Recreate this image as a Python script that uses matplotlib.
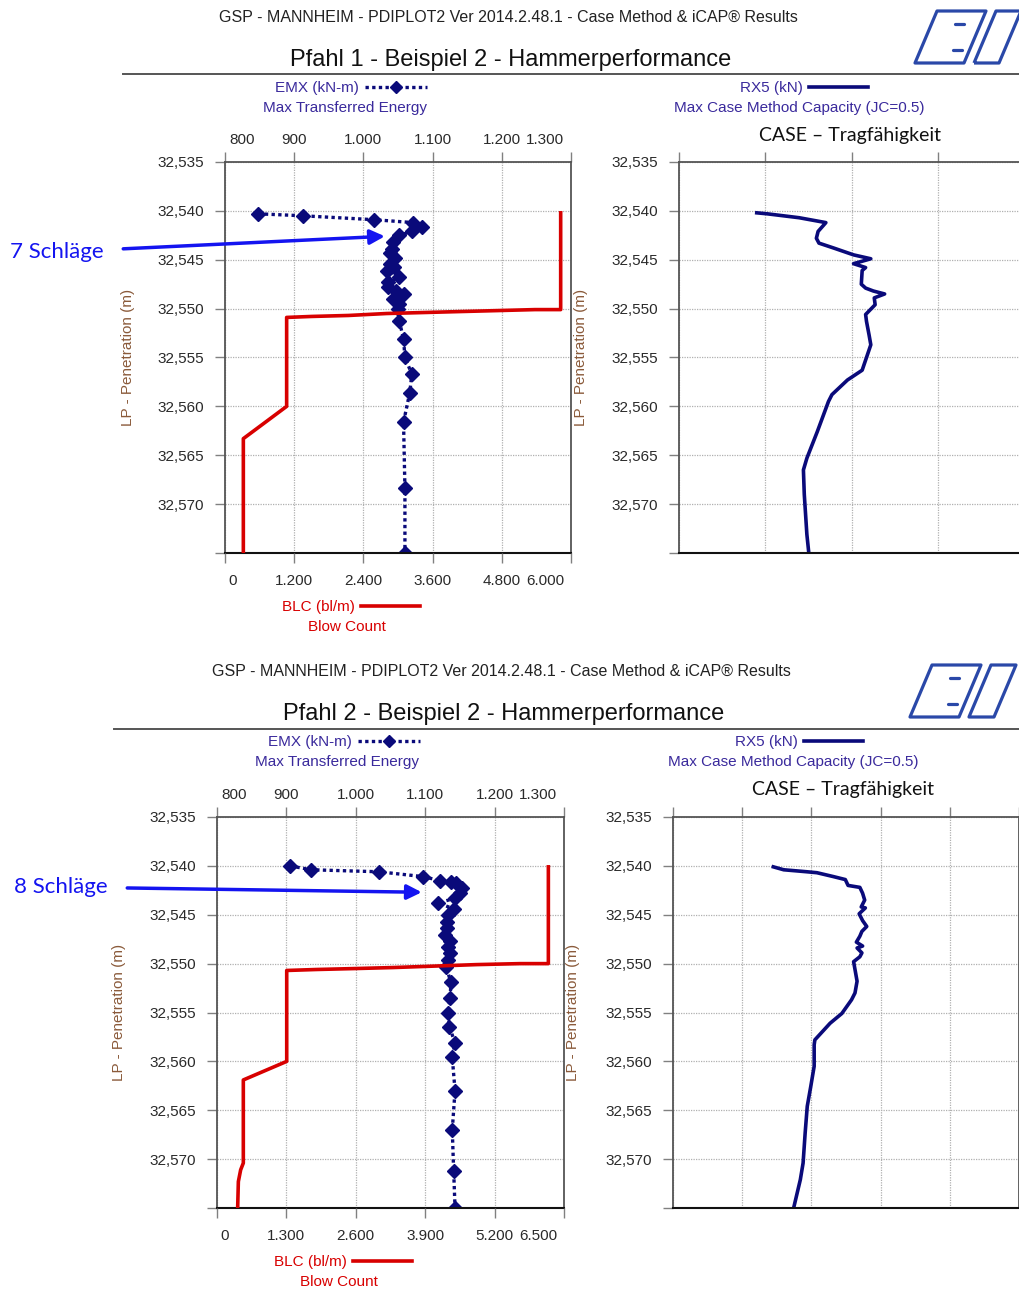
import numpy as np
import matplotlib
matplotlib.use("Agg")
import matplotlib.pyplot as plt
from matplotlib.lines import Line2D
from matplotlib.patches import Polygon
from matplotlib.transforms import ScaledTranslation

plt.rcParams['font.family'] = ['Liberation Sans', 'DejaVu Sans']

W, H = 1020, 1290

# ---- Pfahl 1 data ----
emx1_depth = [32.5403, 32.5405, 32.5409, 32.5412, 32.5416, 32.5421, 32.5425, 32.5432, 32.5439, 32.5443,
              32.5448, 32.5454, 32.5457, 32.5461, 32.5468, 32.5473, 32.5478, 32.5482, 32.5485, 32.5490,
              32.5495, 32.5500, 32.5513, 32.5531, 32.5550, 32.5567, 32.5586, 32.5616, 32.5684, 32.5750]
emx1 = [848, 912, 1015, 1072, 1084, 1070, 1052, 1043, 1041, 1038,
        1046, 1039, 1044, 1034, 1051, 1036, 1035, 1047, 1058, 1043,
        1051, 1050, 1052, 1058, 1060, 1070, 1067, 1058, 1060, 1060]
blc1_depth = [32.5402, 32.5501, 32.5501, 32.5503, 32.5505, 32.5507, 32.5508, 32.5509, 32.5600, 32.5633, 32.5750]
blc1 = [5821, 5821, 5376, 4075, 2803, 2139, 1503, 1069, 1069, 318, 318]
rx1_depth = [32.5402, 32.5403, 32.5407, 32.5412, 32.5421, 32.5428, 32.5433, 32.5438, 32.5445, 32.5449,
             32.5454, 32.5458, 32.5461, 32.5475, 32.5479, 32.5482, 32.5485, 32.5489, 32.5496, 32.5506,
             32.5513, 32.5527, 32.5537, 32.5563, 32.5573, 32.5588, 32.5595, 32.5626, 32.5653, 32.5665,
             32.5690, 32.5731, 32.5748]
rx1 = [900, 1020, 1390, 1700, 1610, 1590, 1620, 1790, 2020, 2220,
       2020, 2160, 2120, 2110, 2160, 2250, 2380, 2260, 2270, 2160,
       2170, 2200, 2220, 2120, 1950, 1770, 1730, 1600, 1480, 1440,
       1450, 1480, 1500]

# ---- Pfahl 2 data ----
emx2_depth = [32.5400, 32.5404, 32.5406, 32.5411, 32.5415, 32.5416, 32.5418, 32.5423, 32.5428, 32.5433,
              32.5438, 32.5444, 32.5450, 32.5457, 32.5464, 32.5471, 32.5477, 32.5483, 32.5489, 32.5496,
              32.5503, 32.5519, 32.5535, 32.5550, 32.5565, 32.5581, 32.5596, 32.5630, 32.5670, 32.5712,
              32.5750]
emx2 = [905, 936, 1033, 1097, 1121, 1137, 1145, 1153, 1150, 1143,
        1119, 1141, 1133, 1131, 1132, 1129, 1136, 1133, 1136, 1133,
        1130, 1137, 1136, 1133, 1135, 1143, 1139, 1143, 1139, 1141,
        1143]
blc2_depth = [32.5401, 32.5500, 32.5500, 32.5501, 32.5504, 32.5505, 32.5506, 32.5507,
              32.5600, 32.5619, 32.5704, 32.5711, 32.5723, 32.5750]
blc2 = [6207, 6207, 5676, 4865, 3303, 2617, 1868, 1306, 1306, 493, 493, 443, 400, 387]
rx2_depth = [32.5401, 32.5404, 32.5406, 32.5407, 32.5411, 32.5414, 32.5420, 32.5422, 32.5428, 32.5435,
             32.5442, 32.5443, 32.5449, 32.5456, 32.5462, 32.5467, 32.5472, 32.5478, 32.5482, 32.5484,
             32.5489, 32.5493, 32.5498, 32.5506, 32.5518, 32.5530, 32.5537, 32.5551, 32.5561, 32.5578,
             32.5583, 32.5605, 32.5626, 32.5646, 32.5673, 32.5704, 32.5721, 32.5748]
rx2 = [1450, 1600, 1930, 2080, 2320, 2490, 2530, 2700, 2740, 2770,
       2720, 2780, 2690, 2740, 2800, 2730, 2700, 2650, 2740, 2660,
       2730, 2700, 2610, 2630, 2660, 2630, 2580, 2440, 2270, 2050,
       2040, 2040, 1990, 1940, 1910, 1880, 1840, 1750]

depth_ticks = [32.535, 32.540, 32.545, 32.550, 32.555, 32.560, 32.565, 32.570, 32.575]
emx_ticks = [800, 900, 1000, 1100, 1200, 1300]
blc1_ticks = [0, 1200, 2400, 3600, 4800, 6000]
blc2_ticks = [0, 1300, 2600, 3900, 5200, 6500]
rx_ticks = [0, 1000, 2000, 3000, 4000, 5000]

NAVY = '#0a0a7a'
RED = '#d80000'
LEG = '#3a2a9c'
TICKC = '#2a2a2a'
YLAB = '#8a5a3a'
ARROW = '#1414f0'

fig = plt.figure(figsize=(W / 100, H / 100), dpi=100)


def fx(x):
    return x / W


def fy(y):
    return 1 - y / H


def add_ax(x0, y0, x1, y1):
    return fig.add_axes([fx(x0), fy(y1), (x1 - x0) / W, (y1 - y0) / H])


def de(v):
    return f"{int(v):,}".replace(',', '.')


def style_depth(ax, lab_x):
    ax.set_ylim(32.575, 32.535)
    ax.set_yticks(depth_ticks)
    ax.set_yticklabels([f"{v:.3f}".replace('.', ',') for v in depth_ticks[:-1]] + [''])
    ax.tick_params(axis='y', direction='out', length=7, width=1, color='#808080',
                   labelsize=11, labelcolor=TICKC, pad=8)
    ax.set_ylabel('LP - Penetration (m)', fontsize=11, color=YLAB)
    ax.yaxis.set_label_coords(lab_x, 0.5)
    ax.grid(True, color='#b0b0b0', linestyle=(0, (1, 1)), linewidth=0.9)
    for s in ['left', 'top', 'right']:
        ax.spines[s].set_color('#555555')
        ax.spines[s].set_linewidth(1.3)
    ax.spines['bottom'].set_color('#111111')
    ax.spines['bottom'].set_linewidth(1.5)


def shift_ends(labels, dl, dr):
    labels[0].set_horizontalalignment('left')
    labels[0].set_transform(labels[0].get_transform() + ScaledTranslation(dl / 100, 0, fig.dpi_scale_trans))
    labels[-1].set_horizontalalignment('right')
    labels[-1].set_transform(labels[-1].get_transform() + ScaledTranslation(-dr / 100, 0, fig.dpi_scale_trans))


def draw_logo(ox, oy):
    col = '#2a48a8'
    shapes = [[(2, 55), (24, 3), (73, 3), (51, 55)],
              [(61, 55), (83, 3), (108, 3), (86, 55)]]
    for pts in shapes:
        p = Polygon([(fx(ox + a), fy(oy + b)) for a, b in pts], closed=True, fill=False,
                    edgecolor=col, linewidth=2.3, joinstyle='round', transform=fig.transFigure)
        fig.add_artist(p)
    for a, b in [((42, 16), (51, 16)), ((40, 42), (49, 42))]:
        fig.add_artist(Line2D([fx(ox + a[0]), fx(ox + b[0])], [fy(oy + a[1]), fy(oy + b[1])],
                              color=col, linewidth=2.3, solid_capstyle='round', transform=fig.transFigure))


def block(L, emx_d, emx_v, blc_d, blc_v, blc_ticks, rx_d, rx_v, title, note, note_xy):
    fig.text(fx(L['header'][0]), fy(L['header'][1]),
             'GSP - MANNHEIM - PDIPLOT2 Ver 2014.2.48.1 - Case Method & iCAP® Results',
             ha='center', va='center', fontsize=11.5, color='#222222')
    fig.text(fx(L['title'][0]), fy(L['title'][1]), title, ha='center', va='center',
             fontsize=17, color='#111111')
    fig.add_artist(Line2D([fx(L['rule'][0]), 1], [fy(L['rule'][1])] * 2, color='#555555',
                          linewidth=1.4, transform=fig.transFigure))
    draw_logo(*L['logo'])

    # left panel: EMX (top axis) and BLC (bottom axis, drawn above)
    ax = add_ax(*L['left'])
    axb = ax.twiny()

    ax.plot(emx_v, emx_d, color=NAVY, linestyle=(0, (1, 1)), linewidth=2.4,
            marker='D', markersize=7.5)
    ax.set_xlim(800, 1300)
    ax.set_xticks(emx_ticks)
    ax.set_xticklabels([de(v) for v in emx_ticks])
    ax.xaxis.tick_top()
    ax.tick_params(axis='x', direction='out', length=7, width=1, color='#808080',
                   labelsize=11, labelcolor=TICKC, pad=4)
    style_depth(ax, L['ylab'][0])

    axb.plot(blc_v, blc_d, color=RED, linewidth=2.6)
    axb.set_xlim(blc_ticks[0], blc_ticks[-1])
    axb.set_xticks(blc_ticks)
    axb.set_xticklabels([de(v) for v in blc_ticks])
    axb.xaxis.tick_bottom()
    axb.tick_params(axis='x', direction='out', length=7, width=1, color='#808080',
                    labelsize=11, labelcolor=TICKC, pad=8)
    for s in axb.spines.values():
        s.set_visible(False)

    shift_ends(ax.get_xticklabels(), 4, 7)
    shift_ends(axb.get_xticklabels(), 3, 7)

    ax.annotate(note, xy=note_xy, xycoords='data',
                xytext=(fx(L['note'][0]), fy(L['note'][1])), textcoords='figure fraction',
                ha='center', va='center', fontsize=16, color=ARROW, family=['Lato', 'DejaVu Sans'],
                annotation_clip=False,
                arrowprops=dict(arrowstyle='-|>', color=ARROW, lw=2.5, mutation_scale=22,
                                shrinkA=12, shrinkB=0))

    # legends
    h_emx = Line2D([], [], color=NAVY, linestyle=(0, (1, 1)), linewidth=2.4, marker='D', markersize=6)
    fig.legend([h_emx], ['EMX (kN-m)'], loc='center', bbox_to_anchor=(fx(L['emx_leg'][0]), fy(L['emx_leg'][1])),
               frameon=False, markerfirst=False, numpoints=1, handlelength=4.1, handletextpad=0.4,
               fontsize=11, labelcolor=LEG, borderpad=0)
    fig.text(fx(L['emx_sub'][0]), fy(L['emx_sub'][1]), 'Max Transferred Energy', ha='center', va='center',
             fontsize=11, color=LEG)
    h_blc = Line2D([], [], color=RED, linewidth=2.6)
    fig.legend([h_blc], ['BLC (bl/m)'], loc='center', bbox_to_anchor=(fx(L['blc_leg'][0]), fy(L['blc_leg'][1])),
               frameon=False, markerfirst=False, handlelength=3.9, handletextpad=0.4,
               fontsize=11, labelcolor=RED, borderpad=0)
    fig.text(fx(L['blc_sub'][0]), fy(L['blc_sub'][1]), 'Blow Count', ha='center', va='center',
             fontsize=11, color=RED)

    # right panel: RX5
    ar = add_ax(*L['right'])
    ar.plot(rx_v, rx_d, color=NAVY, linewidth=2.6)
    ar.set_xlim(rx_ticks[0], rx_ticks[-1])
    ar.set_xticks(rx_ticks)
    ar.xaxis.tick_top()
    ar.tick_params(axis='x', direction='out', length=7, width=1, color='#808080', labeltop=False)
    style_depth(ar, L['ylab'][1])
    h_rx = Line2D([], [], color=NAVY, linewidth=2.6)
    fig.legend([h_rx], ['RX5 (kN)'], loc='center', bbox_to_anchor=(fx(L['rx_leg'][0]), fy(L['rx_leg'][1])),
               frameon=False, markerfirst=False, handlelength=3.8, handletextpad=0.4,
               fontsize=11, labelcolor=LEG, borderpad=0)
    fig.text(fx(L['rx_sub'][0]), fy(L['rx_sub'][1]), 'Max Case Method Capacity (JC=0.5)', ha='center',
             va='center', fontsize=11, color=LEG)
    fig.text(fx(L['case'][0]), fy(L['case'][1]), 'CASE – Tragfähigkeit', ha='center', va='center',
             fontsize=14, color='#111111', family=['Lato', 'DejaVu Sans'])


layout1 = dict(header=(508, 17), title=(511, 60), rule=(123, 74), logo=(913, 8),
               left=(225, 162, 571, 553), right=(679, 162, 1111, 553),
               emx_leg=(351, 88), emx_sub=(345, 108), rx_leg=(804, 88), rx_sub=(799, 108),
               case=(850, 136), blc_leg=(351, 607), blc_sub=(347, 627),
               ylab=((135 - 225) / 346, (588 - 679) / 432), note=(57, 252))
layout2 = dict(header=(501, 671), title=(504, 714), rule=(114, 729), logo=(908, 662),
               left=(217, 817, 564, 1208), right=(673, 817, 1019, 1208),
               emx_leg=(344, 742), emx_sub=(337, 762), rx_leg=(799, 742), rx_sub=(793, 762),
               case=(843, 790), blc_leg=(343, 1262), blc_sub=(339, 1282),
               ylab=((126 - 217) / 347, (580 - 673) / 346), note=(61, 887))

block(layout1, emx1_depth, emx1, blc1_depth, blc1, blc1_ticks, rx1_depth, rx1,
      'Pfahl 1 - Beispiel 2 - Hammerperformance', '7 Schläge', (1031, 32.5426))
block(layout2, emx2_depth, emx2, blc2_depth, blc2, blc2_ticks, rx2_depth, rx2,
      'Pfahl 2 - Beispiel 2 - Hammerperformance', '8 Schläge', (1095, 32.5427))

fig.savefig('out.png', dpi=100)
